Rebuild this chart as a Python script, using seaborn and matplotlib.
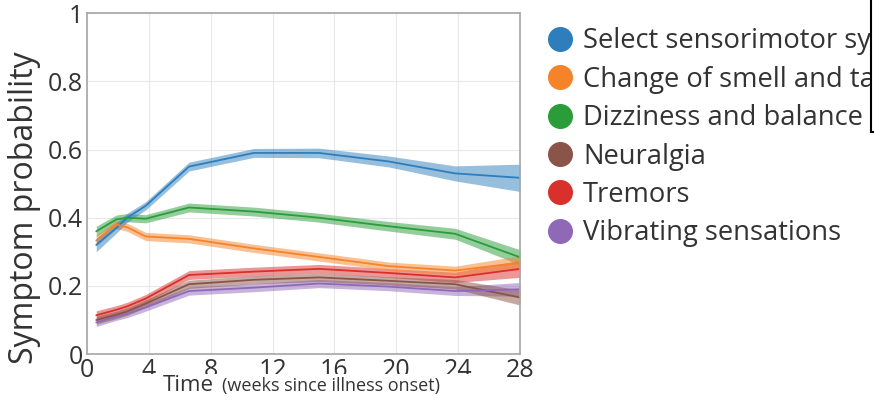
import numpy as np
import pandas as pd
import matplotlib
matplotlib.use("Agg")
import matplotlib.pyplot as plt
from matplotlib.lines import Line2D
from matplotlib.patches import Rectangle
import seaborn as sns

# weeks since illness onset (model knots)
weeks = [0.6, 1.9, 2.6, 3.8, 6.6, 10.8, 15.0, 19.5, 23.8, 28.0]

symptoms = ["Select sensorimotor symptoms", "Change of smell and taste",
            "Dizziness and balance issues", "Neuralgia", "Tremors",
            "Vibrating sensations"]

sensorimotor = [0.32, 0.37, 0.40, 0.435, 0.55, 0.59, 0.59, 0.565, 0.53, 0.517]
smell_taste = [0.333, 0.38, 0.372, 0.345, 0.338, 0.31, 0.285, 0.258, 0.245, 0.268]
dizziness = [0.36, 0.395, 0.40, 0.397, 0.43, 0.418, 0.40, 0.375, 0.353, 0.284]
neuralgia = [0.10, 0.115, 0.125, 0.148, 0.205, 0.218, 0.225, 0.215, 0.205, 0.166]
tremors = [0.114, 0.13, 0.14, 0.163, 0.232, 0.242, 0.25, 0.238, 0.225, 0.25]
vibrating = [0.093, 0.11, 0.118, 0.137, 0.185, 0.195, 0.207, 0.198, 0.185, 0.19]

# half width of the shaded confidence band
sensorimotor_ci = [0.02, 0.015, 0.013, 0.012, 0.013, 0.013, 0.014, 0.016, 0.022, 0.04]
smell_taste_ci = [0.015, 0.012, 0.012, 0.012, 0.012, 0.012, 0.012, 0.012, 0.013, 0.02]
dizziness_ci = [0.015, 0.013, 0.012, 0.012, 0.013, 0.013, 0.013, 0.014, 0.016, 0.022]
neuralgia_ci = [0.012, 0.011, 0.011, 0.011, 0.012, 0.012, 0.012, 0.012, 0.014, 0.022]
tremors_ci = [0.013, 0.012, 0.012, 0.012, 0.013, 0.013, 0.013, 0.013, 0.015, 0.025]
vibrating_ci = [0.012, 0.011, 0.011, 0.011, 0.012, 0.012, 0.012, 0.012, 0.013, 0.02]

colors = ["#2e7ebc", "#f5832a", "#2a9c3a", "#8a5548", "#d9302c", "#9068b8"]

values = [sensorimotor, smell_taste, dizziness, neuralgia, tremors, vibrating]
cis = [sensorimotor_ci, smell_taste_ci, dizziness_ci, neuralgia_ci, tremors_ci, vibrating_ci]

rows = []
for name, vals, ci in zip(symptoms, values, cis):
    for w, v, c in zip(weeks, vals, ci):
        rows.append({"week": w, "prob": v, "lo": v - c, "hi": v + c, "symptom": name})
df = pd.DataFrame(rows)

sns.set_theme(style="white")
plt.rcParams["font.family"] = ["Open Sans", "DejaVu Sans"]
text_col = "#333333"

fig = plt.figure(figsize=(8.74, 3.97), dpi=100)
ax = fig.add_axes([0.0995, 0.108, 0.4955, 0.859])

# bands first, in reverse so blue sits on top
for name, col in reversed(list(zip(symptoms, colors))):
    sub = df[df["symptom"] == name]
    ax.fill_between(sub["week"], sub["lo"], sub["hi"], color=col, alpha=0.5, lw=0)

sns.lineplot(data=df, x="week", y="prob", hue="symptom", hue_order=symptoms,
             palette=colors, lw=1.3, legend=False, ax=ax)

ax.set_xlim(0, 28)
ax.set_ylim(0, 1)
ax.set_xticks(range(0, 29, 4))
ax.set_yticks([0, 0.2, 0.4, 0.6, 0.8, 1])
ax.set_yticklabels(["0", "0.2", "0.4", "0.6", "0.8", "1"])
ax.grid(True, color="#e8e8e8", lw=0.8)
for sp in ax.spines.values():
    sp.set_color("#a6a6a6")
    sp.set_linewidth(1.2)
ax.tick_params(axis="both", direction="in", length=4, color="#a6a6a6",
               labelsize=18, labelcolor=text_col, pad=3)
ax.set_xlabel("")
ax.set_ylabel("Symptom probability", fontsize=23, color=text_col)
ax.yaxis.set_label_coords(-0.106, 0.43)

# white strip under the x label hides the lower part of the inner tick labels
fig.add_artist(Rectangle((135 / 874, 0), 340 / 874, 23 / 397, transform=fig.transFigure,
                         facecolor="white", edgecolor="none", zorder=5))
fig.text(163 / 874, 6 / 397, "Time", fontsize=16, color=text_col, ha="left",
         va="baseline", zorder=6)
fig.text(222 / 874, 6 / 397, "(weeks since illness onset)", fontsize=13, color=text_col,
         ha="left", va="baseline", zorder=6)

handles = [Line2D([], [], ls="none", marker="o", markersize=17, color=c) for c in colors]
fig.legend(handles, symptoms, loc="upper left", bbox_to_anchor=(0.622, 0.931),
           frameon=False, fontsize=19.7, labelcolor=text_col, handletextpad=0.24,
           labelspacing=0.38, borderpad=0, borderaxespad=0, handlelength=1.2)

# edge of the neighbouring panel that clips the legend
fig.add_artist(Rectangle((871 / 874, 1 - 132 / 397), 0.1, 0.5, transform=fig.transFigure,
                         facecolor="white", edgecolor="black", lw=1.5, zorder=10))

fig.savefig("out.png", dpi=100)
